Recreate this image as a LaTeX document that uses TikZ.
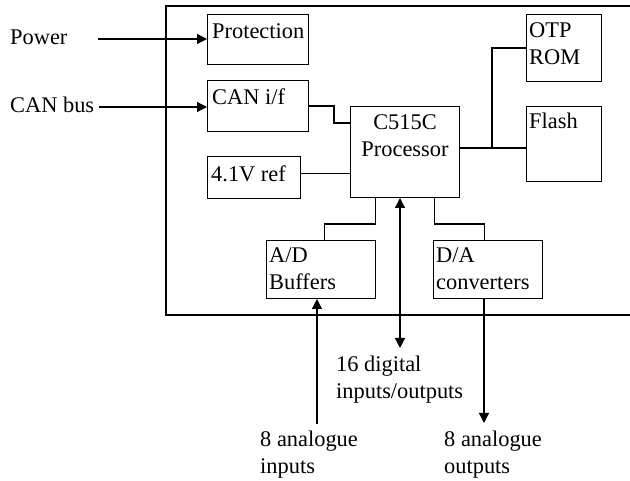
\documentclass[tikz,border=0pt]{standalone}
\usepackage{fontspec}
\setmainfont{Liberation Serif}
\usetikzlibrary{arrows.meta}
\begin{document}
\begin{tikzpicture}[x=1pt,y=-1pt,
      font=\fontsize{22.4}{27}\selectfont,
      >={Triangle[length=10pt,width=10pt]},
      block/.style={draw,line width=1pt,inner sep=0pt,anchor=north west},
      txt/.style={anchor=base west,inner sep=0pt,align=left},
      wire/.style={line width=1.2pt}]

      \useasboundingbox (0,0) rectangle (630,481);

      % outer frame, open on the right
      \draw[line width=1.5pt] (631,6) -- (166,6) -- (166,315) -- (631,315);

      % blocks
      \node[block,minimum width=101,minimum height=50] (prot) at (207,14) {};
      \node[block,minimum width=101,minimum height=51] (canif) at (207,80) {};
      \node[block,minimum width=93,minimum height=42] (vref) at (207,156) {};
      \node[block,minimum width=109,minimum height=91] (cpu) at (350,106) {};
      \node[block,minimum width=75,minimum height=67] (otp) at (526,14) {};
      \node[block,minimum width=75,minimum height=75] (flash) at (526,106) {};
      \node[block,minimum width=109,minimum height=58] (adc) at (266,240) {};
      \node[block,minimum width=109,minimum height=58] (dac) at (433,240) {};

      % block texts (two-line texts sit on their last baseline)
      \node[txt] at ([xshift=5pt,yshift=-25pt]prot.north west) {Protection};
      \node[txt] at ([xshift=5pt,yshift=-25pt]canif.north west) {CAN i/f};
      \node[txt] at ([xshift=4pt,yshift=-26pt]vref.north west) {4.1V ref};
      \node[txt] at ([xshift=3pt,yshift=-51pt]otp.north west) {OTP\\ROM};
      \node[txt] at ([xshift=3pt,yshift=-23pt]flash.north west) {Flash};
      \node[anchor=base,inner sep=0pt,align=center] at ([yshift=-51pt]cpu.north) {C515C\\Processor};
      \node[txt] at ([xshift=3pt,yshift=-50pt]adc.north west) {A/D\\Buffers};
      \node[txt] at ([xshift=3pt,yshift=-50pt]dac.north west) {D/A\\converters};

      % outside texts
      \node[txt] (power) at (10,45) {Power};
      \node[txt] (canbus) at (10,113) {CAN bus};
      \node[txt] (dio) at (336,399) {16 digital\\inputs/outputs};
      \node[txt] (ain) at (260,473) {8 analogue\\inputs};
      \node[txt] (aout) at (444,473) {8 analogue\\outputs};

      % free ends
      \coordinate (pwrin) at (98,39);
      \coordinate (canin) at (99,107);
      \coordinate (bus) at (492,148);
      \coordinate (dioend) at (400,348);
      \coordinate (ainend) at (317,424);
      \coordinate (aoutend) at (484,423);

      % connectors
      \draw[wire,->] (pwrin) -- (pwrin -| prot.west);
      \draw[wire,->] (canin) -- (canin -| canif.west);
      \draw[wire] (canif.east) -- ++(25,0) |- ([yshift=-17pt]cpu.north west);
      \draw[wire] ([yshift=4pt]vref.east) -- ([yshift=4pt]vref.east -| cpu.west);
      \draw[wire] (bus -| cpu.east) -- (bus -| flash.west);
      \draw[wire] (bus) |- (otp.west);
      \draw[wire] ([xshift=-29.5pt]cpu.south) -- ++(0,26) -| ([xshift=3.5pt]adc.north);
      \draw[wire] ([xshift=29.5pt]cpu.south) -- ++(0,26) -| ([xshift=-3.5pt]dac.north);
      \draw[wire,<->] (dioend |- cpu.south) -- (dioend);
      \draw[wire,->] (ainend) -- (ainend |- adc.south);
      \draw[wire,->] (aoutend |- dac.south) -- (aoutend);
    \end{tikzpicture}
\end{document}
